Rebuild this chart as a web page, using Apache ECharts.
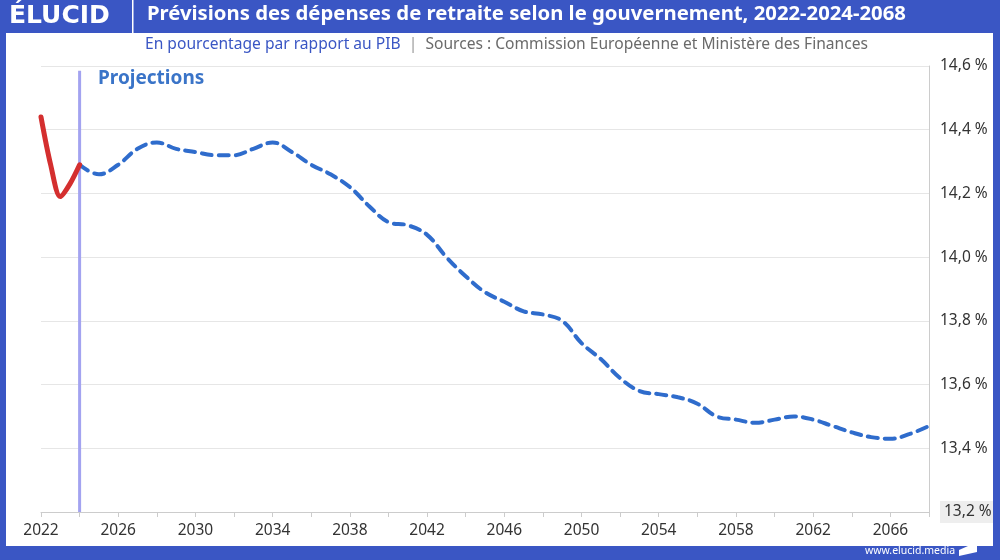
<!DOCTYPE html>
<html><head><meta charset="utf-8">
<script src="https://cdn.jsdelivr.net/npm/echarts@6/dist/echarts.min.js"></script>
<style>html,body{margin:0;padding:0;background:#fff}#c{width:1000px;height:560px}</style>
</head><body><div id="c"></div>
<script>
// Historical (red) values
const histYears = [2022, 2022.5, 2023, 2023.5, 2024];
const histValues = [14.44, 14.29, 14.19, 14.23, 14.29];
// Projection (blue dashed) values
const projYears = [2024,2025,2026,2027,2028,2029,2030,2031,2032,2033,2034,2035,2036,2037,2038,2039,2040,2041,2042,2043,2044,2045,2046,2047,2048,2049,2050,2051,2052,2053,2054,2055,2056,2057,2058,2059,2060,2061,2062,2063,2064,2065,2066,2067,2068];
const projValues = [14.29,14.26,14.29,14.34,14.36,14.34,14.33,14.32,14.32,14.34,14.36,14.33,14.29,14.26,14.22,14.16,14.11,14.10,14.07,14.00,13.94,13.89,13.86,13.83,13.82,13.80,13.73,13.68,13.62,13.58,13.57,13.56,13.54,13.50,13.49,13.48,13.49,13.50,13.49,13.47,13.45,13.435,13.43,13.445,13.47];
const projectionStart = 2024;
const yTicks = [13.2, 13.4, 13.6, 13.8, 14.0, 14.2, 14.4, 14.6];

const FONT = '"Noto Sans", sans-serif';
const BLUE = '#3a56c4';
const chart = echarts.init(document.getElementById('c'), null, {renderer: 'canvas'});
chart.setOption({
  animation: false,
  backgroundColor: '#fff',
  textStyle: {fontFamily: FONT},
  grid: {left: 41, right: 71, top: 66, bottom: 48},
  xAxis: {
    type: 'value', min: 2022, max: 2068, interval: 2,
    axisLine: {show: true, lineStyle: {color: '#cccccc', width: 1}},
    axisTick: {show: true, length: 5, lineStyle: {color: '#cccccc'}},
    splitLine: {show: false},
    axisLabel: {
      color: '#333', fontSize: 15.5, fontFamily: FONT, margin: 11,
      formatter: v => ((v - 2022) % 4 === 0 && v < 2068) ? String(v) : ''
    }
  },
  yAxis: {
    type: 'value', position: 'right', min: yTicks[0], max: yTicks[yTicks.length-1], interval: 0.2,
    axisLine: {show: true, lineStyle: {color: '#cccccc'}},
    axisTick: {show: false},
    splitLine: {show: true, lineStyle: {color: '#e6e6e6', width: 1}},
    axisLabel: {
      color: '#333', fontSize: 15.5, fontFamily: FONT, margin: 11,
      formatter: v => {
        const s = v.toFixed(1).replace('.', ',') + ' %';
        return Math.abs(v - 13.2) < 1e-6 ? '{hl|' + s + '}' : s;
      },
      rich: {hl: {backgroundColor: '#eeeeee', padding: [3, 4, 3, 4], color: '#333', fontSize: 15.5, fontFamily: FONT}}
    }
  },
  series: [
    {
      type: 'line', data: [[projectionStart, 13.2], [projectionStart, 14.585]],
      symbol: 'none', lineStyle: {color: '#a3a3f0', width: 3}, silent: true, z: 1
    },
    {
      type: 'line', data: projYears.map((y, i) => [y, projValues[i]]),
      smooth: 0.4, symbol: 'none',
      lineStyle: {color: '#2f6ccc', width: 4, type: [10, 7], cap: 'round'}, z: 3
    },
    {
      type: 'line', data: histYears.map((y, i) => [y, histValues[i]]),
      smooth: 0.3, symbol: 'none',
      lineStyle: {color: '#d42f2f', width: 5, cap: 'round'}, z: 4
    }
  ],
  graphic: [
    {type: 'rect', left: 0, top: 0, shape: {width: 1000, height: 33}, style: {fill: BLUE}, z: 10},
    {type: 'rect', left: 0, top: 0, shape: {width: 6, height: 560}, style: {fill: BLUE}, z: 10},
    {type: 'rect', left: 993, top: 0, shape: {width: 7, height: 560}, style: {fill: BLUE}, z: 10},
    {type: 'rect', left: 0, top: 546, shape: {width: 1000, height: 14}, style: {fill: BLUE}, z: 10},
    {type: 'text', left: 9, top: 4, style: {text: 'ÉLUCID', fill: '#fff', font: 'bold 25px "DejaVu Sans", sans-serif'}, z: 11},
    {type: 'rect', left: 132, top: 0, shape: {width: 1.5, height: 33}, style: {fill: '#ffffff'}, z: 11},
    {type: 'text', left: 147, top: 4, style: {text: 'Prévisions des dépenses de retraite selon le gouvernement, 2022-2024-2068', fill: '#fff', font: 'bold 20.3px ' + FONT}, z: 11},
    {type: 'text', left: 145, top: 37, style: {
      text: '{a|En pourcentage par rapport au PIB}{s|  |  }{b|Sources : Commission Européenne et Ministère des Finances}',
      rich: {
        a: {fill: BLUE, font: '15.6px ' + FONT},
        s: {fill: '#999', font: '15.6px ' + FONT},
        b: {fill: '#6a6a6a', font: '15.6px ' + FONT}
      }
    }, z: 11},
    {type: 'text', left: 98, top: 69, style: {text: 'Projections', fill: '#3a74c8', font: 'bold 19px ' + FONT}, z: 11},
    {type: 'text', left: 865, top: 546, style: {text: 'www.elucid.media', fill: '#fff', font: '10.5px ' + FONT}, z: 11},
    {type: 'polygon', shape: {points: [[959, 550], [977, 542], [977, 552], [959, 556]]}, style: {fill: '#fff'}, z: 11}
  ]
});
</script></body></html>
